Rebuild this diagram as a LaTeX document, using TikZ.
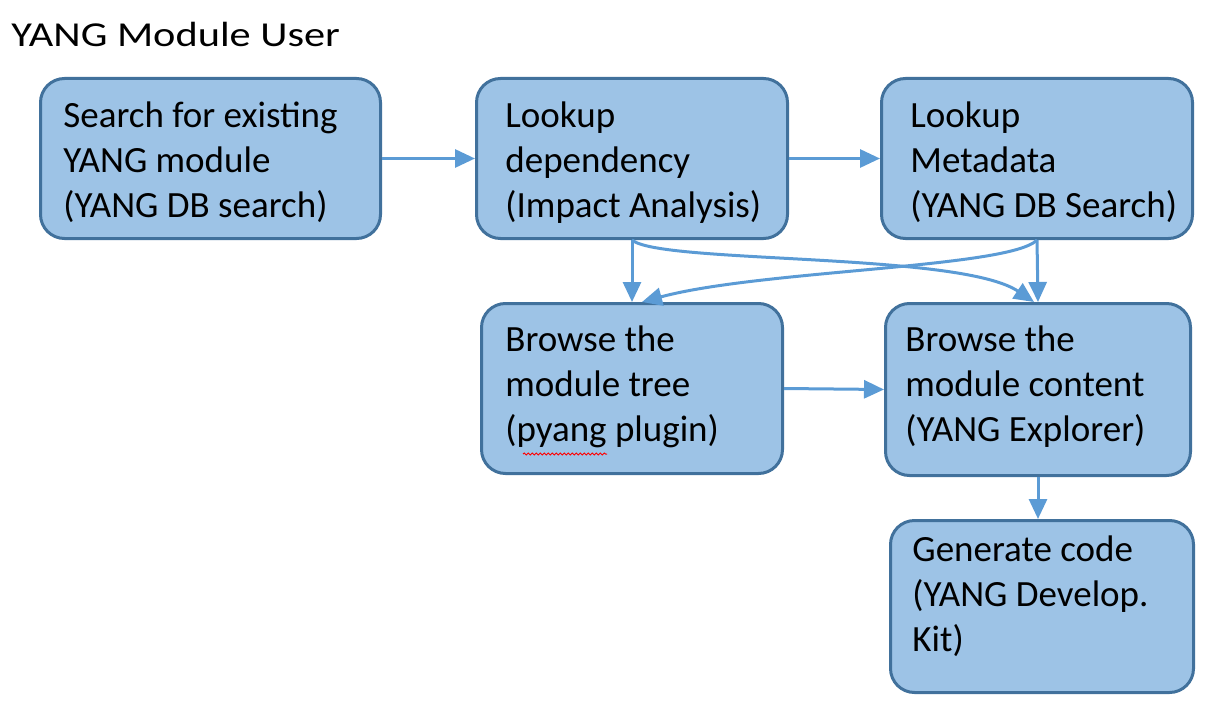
\documentclass[tikz,border=0pt]{standalone}
\usepackage{fontspec}
\setmainfont{Carlito}
\usetikzlibrary{arrows.meta,decorations.pathmorphing}
\definecolor{boxfill}{HTML}{9DC3E6}
\definecolor{boxline}{HTML}{41719C}
\definecolor{arrowc}{HTML}{5B9BD5}
\begin{document}
\begin{tikzpicture}[x=0.5pt,y=-0.5pt,
  box/.style={draw=boxline,fill=boxfill,line width=1.5pt,rounded corners=12pt,anchor=north west,inner sep=0pt},
  txt/.style={anchor=north west,inner sep=0pt,align=left,font=\fontsize{18.5}{22.5}\selectfont},
  conn/.style={draw=arrowc,line width=1.5pt,-{Triangle[length=10pt,width=9pt]}}]
\useasboundingbox (0,0) rectangle (1209,701);
\node[anchor=base west,inner sep=0pt,font=\fontsize{17.5}{22.5}\selectfont] (title) at (11,47) {\scalebox{1.21}[1]{YANG Module User}};
\node[box,minimum width=170pt,minimum height=80pt] (b1) at (39,77) {};
\node[box,minimum width=155.5pt,minimum height=80pt] (b2) at (475,77) {};
\node[box,minimum width=155.5pt,minimum height=80pt] (b3) at (880,77) {};
\node[box,minimum width=150.5pt,minimum height=85pt] (b4) at (480,302) {};
\node[box,minimum width=152.5pt,minimum height=86pt] (b5) at (884,302) {};
\node[box,minimum width=151.5pt,minimum height=86pt] (b6) at (889,519) {};
\node[txt] (t1) at (63,96) {\strut Search for existing\\YANG module\\(YANG DB search)};
\node[txt] (t2) at (505,96) {\strut Lookup\\dependency\\(Impact Analysis)};
\node[txt] (t3) at (910,96) {\strut Lookup\\Metadata\\(YANG DB Search)};
\node[txt] (t4) at (505,320) {\strut Browse the\\module tree\\(pyang plugin)};
\node[txt] (t5) at (905,320) {\strut Browse the\\module content\\(YANG Explorer)};
\node[txt] (t6) at (912,530) {\strut Generate code\\(YANG Develop.\\Kit)};
\draw[red,line width=0.5pt,decorate,decoration={snake,amplitude=0.5pt,segment length=2pt}] (523,454) -- (607,454);
\path[conn] (b1.east) -- (b2.west);
\path[conn] (b2.east) -- (b3.west);
\path[conn] (b2.south) -- (b4.north);
\path[conn] (b3.south) -- (b5.north);
\path[conn] (b4.east) -- (b5.west);
\path[conn] (b5.south) -- (b5.south |- b6.north);
\path[conn] (b2.south) .. controls (660,264) and (960,252) .. ([xshift=-2pt]b5.north);
\path[conn] (b3.south) .. controls (1010,268) and (760,270) .. ([xshift=5pt]b4.north);
\end{tikzpicture}
\end{document}
